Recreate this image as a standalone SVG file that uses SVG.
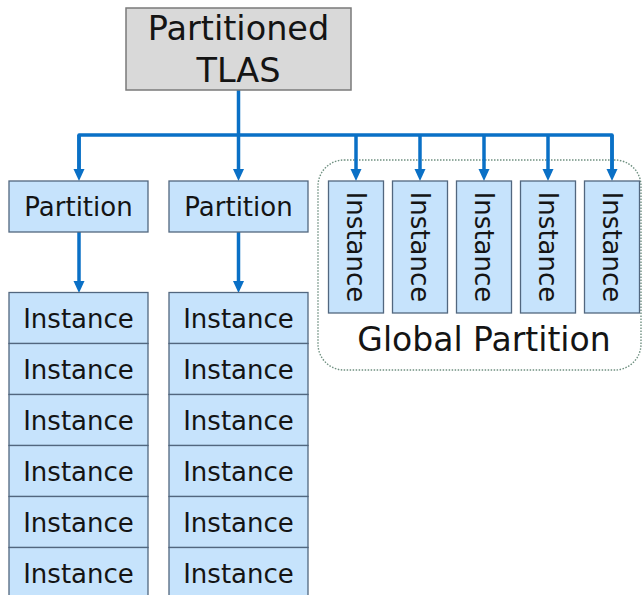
<svg xmlns="http://www.w3.org/2000/svg" width="643" height="595" viewBox="0 0 643 595">
  <defs>
    <marker id="ah" markerUnits="userSpaceOnUse" markerWidth="12" markerHeight="12" refX="0" refY="5.5" orient="auto" viewBox="0 0 12 11">
      <path d="M0,0 L12,5.5 L0,11 Z" fill="#0a70c6"/>
    </marker>
    <style>
      .root { fill: #d9d9d9; stroke: #7a7a7a; stroke-width: 1.5; }
      .box { fill: #c6e3fc; stroke: #52677f; stroke-width: 1.3; }
      .lbl { font-family: "DejaVu Sans", "Noto Sans", sans-serif; fill: #141414; text-anchor: middle; }
      .s26 { font-size: 26px; }
      .conn { fill: none; stroke: #0a70c6; stroke-width: 3.5; }
      .grp { fill: none; stroke: #6f9080; stroke-width: 1.4; stroke-dasharray: 1.5 1.5; }
    </style>
  </defs>

  <g id="global-partition-frame">
    <rect class="grp" x="318" y="160" width="323" height="210" rx="26" ry="26"/>
  </g>

  <g id="connectors">
    <path class="conn" d="M238.5,90 V135"/>
    <path class="conn" d="M79,169 V135 H612 V169" stroke-linejoin="round"/>
    <path class="conn" d="M79,135 V169" marker-end="url(#ah)"/>
    <path class="conn" d="M238.5,135 V169" marker-end="url(#ah)"/>
    <path class="conn" d="M356,135 V169" marker-end="url(#ah)"/>
    <path class="conn" d="M420,135 V169" marker-end="url(#ah)"/>
    <path class="conn" d="M484,135 V169" marker-end="url(#ah)"/>
    <path class="conn" d="M548,135 V169" marker-end="url(#ah)"/>
    <path class="conn" d="M612,135 V169" marker-end="url(#ah)"/>
    <path class="conn" d="M79,232 V281" marker-end="url(#ah)"/>
    <path class="conn" d="M238.5,232 V281" marker-end="url(#ah)"/>
  </g>

  <g id="tlas">
    <rect class="root" x="126" y="8" width="225" height="82"/>
    <text class="lbl" x="238.5" y="39.5" font-size="33.5">Partitioned</text>
    <text class="lbl" x="238.5" y="82" font-size="33.5">TLAS</text>
  </g>

  <g id="partition-1">
    <rect class="box" x="9" y="181" width="139" height="51"/>
    <text class="lbl s26" x="78.5" y="215.5">Partition</text>
  </g>
  <g id="partition-2">
    <rect class="box" x="169" y="181" width="139" height="51"/>
    <text class="lbl s26" x="238.5" y="215.5">Partition</text>
  </g>

  <g id="stack-1">
    <rect class="box" x="9" y="292.5" width="139" height="51"/>
    <text class="lbl s26" x="78.5" y="327.5">Instance</text>
    <rect class="box" x="9" y="343.5" width="139" height="51"/>
    <text class="lbl s26" x="78.5" y="378.5">Instance</text>
    <rect class="box" x="9" y="394.5" width="139" height="51"/>
    <text class="lbl s26" x="78.5" y="429.5">Instance</text>
    <rect class="box" x="9" y="445.5" width="139" height="51"/>
    <text class="lbl s26" x="78.5" y="480.5">Instance</text>
    <rect class="box" x="9" y="496.5" width="139" height="51"/>
    <text class="lbl s26" x="78.5" y="531.5">Instance</text>
    <rect class="box" x="9" y="547.5" width="139" height="51"/>
    <text class="lbl s26" x="78.5" y="582.5">Instance</text>
  </g>

  <g id="stack-2">
    <rect class="box" x="169" y="292.5" width="139" height="51"/>
    <text class="lbl s26" x="238.5" y="327.5">Instance</text>
    <rect class="box" x="169" y="343.5" width="139" height="51"/>
    <text class="lbl s26" x="238.5" y="378.5">Instance</text>
    <rect class="box" x="169" y="394.5" width="139" height="51"/>
    <text class="lbl s26" x="238.5" y="429.5">Instance</text>
    <rect class="box" x="169" y="445.5" width="139" height="51"/>
    <text class="lbl s26" x="238.5" y="480.5">Instance</text>
    <rect class="box" x="169" y="496.5" width="139" height="51"/>
    <text class="lbl s26" x="238.5" y="531.5">Instance</text>
    <rect class="box" x="169" y="547.5" width="139" height="51"/>
    <text class="lbl s26" x="238.5" y="582.5">Instance</text>
  </g>

  <g id="global-instance-1">
    <rect class="box" x="328.5" y="181" width="55" height="132"/>
    <text class="lbl s26" x="356" y="256.5" transform="rotate(90 356 247)">Instance</text>
  </g>
  <g id="global-instance-2">
    <rect class="box" x="392.5" y="181" width="55" height="132"/>
    <text class="lbl s26" x="420" y="256.5" transform="rotate(90 420 247)">Instance</text>
  </g>
  <g id="global-instance-3">
    <rect class="box" x="456.5" y="181" width="55" height="132"/>
    <text class="lbl s26" x="484" y="256.5" transform="rotate(90 484 247)">Instance</text>
  </g>
  <g id="global-instance-4">
    <rect class="box" x="520.5" y="181" width="55" height="132"/>
    <text class="lbl s26" x="548" y="256.5" transform="rotate(90 548 247)">Instance</text>
  </g>
  <g id="global-instance-5">
    <rect class="box" x="584.5" y="181" width="55" height="132"/>
    <text class="lbl s26" x="612" y="256.5" transform="rotate(90 612 247)">Instance</text>
  </g>

  <g id="global-partition-label">
    <text class="lbl" x="484" y="351" font-size="33">Global Partition</text>
  </g>
</svg>
